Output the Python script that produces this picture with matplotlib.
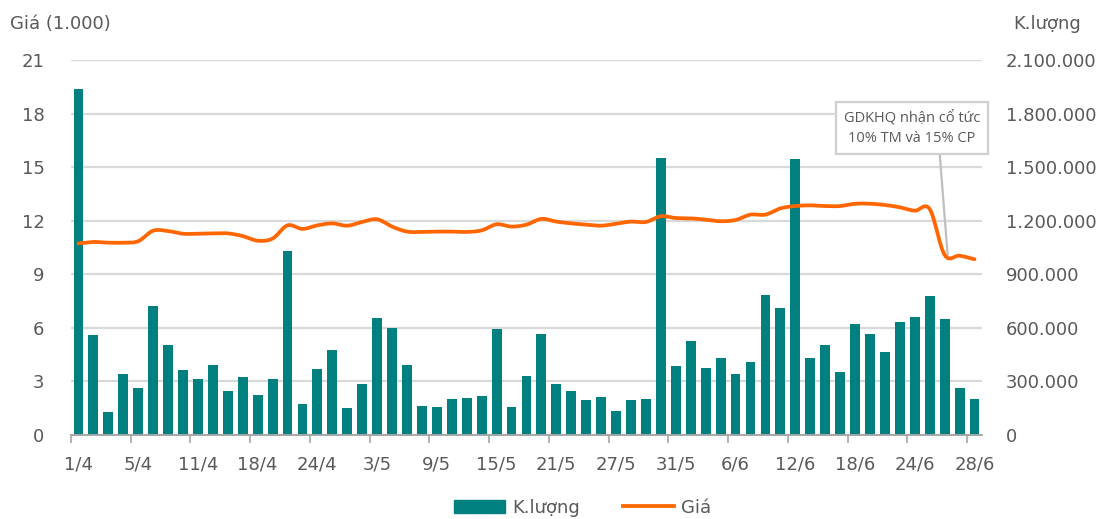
import numpy as np
import matplotlib.pyplot as plt
from matplotlib.patches import Patch
from matplotlib.lines import Line2D

plt.rcParams['font.family'] = ['DejaVu Sans']

tick_labels = ['1/4', '5/4', '11/4', '18/4', '24/4', '3/5', '9/5', '15/5',
               '21/5', '27/5', '31/5', '6/6', '12/6', '18/6', '24/6', '28/6']

volume = [1935000, 560000, 129000, 341000, 263000, 722000, 504000, 364000,
          313000, 392000, 246000, 325000, 224000, 313000, 1030000, 173000,
          369000, 476000, 151000, 285000, 655000, 599000, 392000, 162000,
          157000, 201000, 207000, 218000, 593000, 157000, 330000, 565000,
          285000, 246000, 196000, 213000, 134000, 196000, 201000, 1550000,
          386000, 526000, 375000, 431000, 341000, 409000, 784000, 711000,
          1545000, 431000, 504000, 353000, 621000, 565000, 465000, 632000,
          660000, 778000, 649000, 263000, 201000]

price = [10.73, 10.81, 10.77, 10.77, 10.85, 11.44, 11.42, 11.27, 11.27, 11.29,
         11.29, 11.14, 10.88, 11.00, 11.74, 11.54, 11.74, 11.85, 11.72, 11.93,
         12.08, 11.67, 11.39, 11.37, 11.39, 11.39, 11.37, 11.46, 11.80, 11.67,
         11.78, 12.10, 11.95, 11.85, 11.78, 11.72, 11.83, 11.95, 11.93, 12.25,
         12.15, 12.13, 12.06, 11.97, 12.04, 12.34, 12.34, 12.69, 12.82, 12.86,
         12.82, 12.82, 12.95, 12.95, 12.88, 12.75, 12.56, 12.65, 10.08, 10.04,
         9.84]

teal = '#00807F'
orange = '#FF6600'
grey = '#595959'


def smooth(x, y, n=12):
    # catmull-rom, like Excel's smoothed line
    x = np.asarray(x, float)
    y = np.asarray(y, float)
    px = np.concatenate([[2 * x[0] - x[1]], x, [2 * x[-1] - x[-2]]])
    py = np.concatenate([[2 * y[0] - y[1]], y, [2 * y[-1] - y[-2]]])
    xs, ys = [], []
    t = np.linspace(0, 1, n, endpoint=False)
    for i in range(1, len(px) - 2):
        for arr, out in ((px, xs), (py, ys)):
            p0, p1, p2, p3 = arr[i - 1], arr[i], arr[i + 1], arr[i + 2]
            out.extend(0.5 * (2 * p1 + (-p0 + p2) * t
                              + (2 * p0 - 5 * p1 + 4 * p2 - p3) * t ** 2
                              + (-p0 + 3 * p1 - 3 * p2 + p3) * t ** 3))
    xs.append(x[-1])
    ys.append(y[-1])
    return np.array(xs), np.array(ys)


x = np.arange(len(volume))

fig = plt.figure(figsize=(11.14, 5.19), dpi=100)
ax = fig.add_axes([0.0637, 0.1619, 0.8178, 0.7225])
ax2 = ax.twinx()

ax2.bar(x, volume, width=0.66, color=teal, zorder=2)
ax2.set_ylim(0, 2100000)
ax2.set_yticks(np.arange(0, 2100001, 300000))
ax2.set_yticklabels([f'{v:,}'.replace(',', '.') for v in range(0, 2100001, 300000)])

sx, sy = smooth(x, price)
ax.plot(sx, sy, color=orange, lw=2.7, solid_capstyle='round', zorder=5)
ax.set_ylim(0, 21)
ax.set_yticks(np.arange(0, 22, 3))

# line above bars
ax.set_zorder(ax2.get_zorder() + 1)
ax.patch.set_visible(False)

for a in (ax, ax2):
    for s in ('top', 'right', 'left'):
        a.spines[s].set_visible(False)
    a.spines['bottom'].set_color('#A6A6A6')
    a.spines['bottom'].set_linewidth(1.2)
    a.set_xlim(-0.5, len(volume) - 0.5)

for v in np.arange(3, 22, 3):
    ax2.axhline(v / 21 * 2100000, color='#D9D9D9', lw=1.6, zorder=0)

ax.set_xticks(np.arange(-0.5, len(volume), 4))
ax.set_xticklabels([])
ax.tick_params(axis='x', which='major', length=6, width=1.2, color='#A6A6A6', direction='out')
ax.set_xticks(np.arange(0, len(volume), 4), minor=True)
ax.set_xticklabels(tick_labels, minor=True)
ax.tick_params(axis='x', which='minor', length=0, pad=15, labelsize=13, labelcolor=grey)
ax.tick_params(axis='y', length=0, pad=19, labelsize=13, labelcolor=grey)
ax2.tick_params(axis='y', length=0, pad=17, labelsize=13, labelcolor=grey)
ax2.tick_params(axis='x', length=0)

fig.text(0.009, 0.953, 'Giá (1.000)', fontsize=13, color=grey, va='center', ha='left')
fig.text(0.970, 0.953, 'K.lượng', fontsize=13, color=grey, va='center', ha='right')

# annotation for ex-dividend date
ax.annotate('GDKHQ nhận cổ tức\n10% TM và 15% CP',
            xy=(58.2, price[58]), xytext=(55.8, 17.2),
            ha='center', va='center', fontsize=10.5, color=grey,
            family=['Open Sans', 'DejaVu Sans'], linespacing=1.45,
            bbox=dict(boxstyle='square,pad=0.55', fc='white', ec='#D0D0D0', lw=1.6),
            arrowprops=dict(arrowstyle='-', color='#BFBFBF', lw=1.6,
                            shrinkA=0, shrinkB=0, relpos=(0.7, 0)))

handles = [Patch(color=teal, label='K.lượng'),
           Line2D([], [], color=orange, lw=2.7, label='Giá')]
fig.legend(handles=handles, loc='center', bbox_to_anchor=(0.523, 0.022), ncol=2,
           frameon=False, fontsize=13, labelcolor=grey, handlelength=2.8,
           handleheight=0.7, columnspacing=2.4, handletextpad=0.4)

fig.savefig('out.png', dpi=100)
